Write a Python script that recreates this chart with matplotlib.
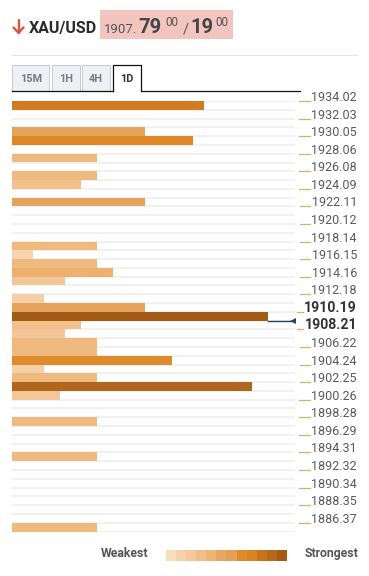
import matplotlib
matplotlib.use("Agg")
import matplotlib.pyplot as plt
import numpy as np
from matplotlib.colors import LinearSegmentedColormap, Normalize
from matplotlib.patches import Rectangle
from matplotlib.transforms import blended_transform_factory

plt.rcParams['font.family'] = ['Roboto', 'DejaVu Sans']

# ---------------- data ----------------
symbol = "XAU/USD"
bid_int = "1907."
bid_big = "79"
bid_sup = "00"
ask_big = "19"
ask_sup = "00"
timeframes = ["15M", "1H", "4H", "1D"]
active_tf = "1D"

tick_values = [1934.02, 1932.03, 1930.05, 1928.06, 1926.08, 1924.09, 1922.11,
               1920.12, 1918.14, 1916.15, 1914.16, 1912.18, 1910.19, 1908.21,
               1906.22, 1904.24, 1902.25, 1900.26, 1898.28, 1896.29, 1894.31,
               1892.32, 1890.34, 1888.35, 1886.37]
highlight_ticks = [1910.19, 1908.21]

level_prices = [1933.52, 1930.55, 1929.55, 1927.57, 1925.58, 1924.59, 1922.60,
                1917.64, 1916.65, 1915.66, 1914.66, 1913.67, 1911.68, 1910.69,
                1909.70, 1908.71, 1907.71, 1906.72, 1905.73, 1904.74, 1903.74,
                1902.75, 1901.76, 1900.76, 1897.79, 1893.82, 1885.87]
level_strength = [12.0, 8.3, 11.3, 5.3, 5.3, 4.3, 8.3,
                  5.3, 1.3, 5.3, 6.3, 3.3, 2.0, 8.3,
                  16.0, 4.3, 3.3, 5.3, 5.3, 10.0, 2.0,
                  5.3, 15.0, 3.0, 5.3, 5.3, 5.3]
max_strength = 17.7
current_price = 1909.20

legend_low = "Weakest"
legend_high = "Strongest"

# ---------------- style ----------------
W, H = 369, 576
cmap = LinearSegmentedColormap.from_list("conf", [
    (0.00, "#f9dcbc"), (0.10, "#f6d2ab"), (0.20, "#f3c698"), (0.33, "#efba7e"),
    (0.45, "#e9a862"), (0.55, "#e5a058"), (0.63, "#e08a2a"), (0.72, "#dd8626"),
    (0.76, "#d07a1e"), (0.94, "#b0661c"), (1.00, "#a35b14")])
norm = Normalize(0, 16)

fig = plt.figure(figsize=(W / 100, H / 100), dpi=100)
fig.patch.set_facecolor("white")

bg = fig.add_axes([0, 0, 1, 1])
bg.set_xlim(0, W)
bg.set_ylim(H, 0)
bg.axis("off")

# header
bg.plot([18.5, 18.5], [19.5, 32.5], color="#d4573f", lw=1.7, solid_capstyle="round")
bg.plot([13.5, 18.5, 23.5], [27.5, 32.8, 27.5], color="#d4573f", lw=1.7,
        solid_capstyle="round", solid_joinstyle="miter")
bg.text(29, 33, symbol, fontsize=11.5, fontweight="bold", color="#2b2b2b", va="baseline", ha="left")
bg.add_patch(Rectangle((100, 10), 133, 28.5, facecolor="#f2c6bf", edgecolor="none"))
bg.text(104, 33, bid_int, fontsize=9.5, color="#555555", va="baseline")
bg.text(138.5, 33, bid_big, fontsize=14.5, fontweight="bold", color="#454545", va="baseline")
bg.text(165.5, 25.5, bid_sup, fontsize=8.5, color="#555555", va="baseline")
bg.text(182.5, 33, "/", fontsize=10.5, color="#555555", va="baseline")
bg.text(190.5, 33, ask_big, fontsize=14.5, fontweight="bold", color="#454545", va="baseline")
bg.text(215.5, 25.5, ask_sup, fontsize=8.5, color="#555555", va="baseline")

bg.plot([12, 357], [55, 55], color="#e4e4e4", lw=0.8)

# tabs
tab_x = [(12, 49.3), (51.7, 80), (82, 110), (113.3, 140.7)]
for (x0, x1), name in zip(tab_x, timeframes):
    if name == active_tf:
        bg.add_patch(Rectangle((x0, 65), x1 - x0, 26, facecolor="white", edgecolor="none"))
        bg.plot([x0, x0, x1, x1], [90.5, 65, 65, 90.5], color="#111111", lw=0.9)
        bg.text((x0 + x1) / 2, 78.5, name, fontsize=7.8, fontweight="bold", color="#333333",
                ha="center", va="center")
    else:
        bg.add_patch(Rectangle((x0, 65), x1 - x0, 25.5, facecolor="#eef0f5",
                               edgecolor="#c9c9cf", lw=0.7))
        bg.text((x0 + x1) / 2, 78.5, name, fontsize=7.8, fontweight="bold", color="#7a7a7a",
                ha="center", va="center")
bg.plot([12, 113.3], [90.5, 90.5], color="#111111", lw=0.9)
bg.plot([140.7, 300], [90.5, 90.5], color="#111111", lw=0.9)

# legend
bg.text(148.5, 553.5, legend_low, fontsize=8.8, fontweight="bold", color="#555555",
        ha="right", va="center")
bg.text(304.5, 553.5, legend_high, fontsize=8.8, fontweight="bold", color="#555555",
        ha="left", va="center")
lax = fig.add_axes([166 / W, 1 - 561 / H, 121 / W, 11 / H])
lax.imshow(cmap(np.linspace(0, 1, 12))[None, :, :], aspect="auto", interpolation="nearest")
lax.axis("off")

# ---------------- chart ----------------
top = tick_values[0]
step = (tick_values[0] - tick_values[-1]) / ((len(tick_values) - 1) * 2)
n_rows = (len(tick_values) - 1) * 2 + 1
bottom = top - n_rows * step

ax = fig.add_axes([12 / W, 1 - 531.5 / H, 283 / W, 430.5 / H])
ax.set_xlim(0, max_strength)
ax.set_ylim(bottom, top)
ax.axis("off")

for k in range(n_rows + 1):
    ax.axhline(top - k * step, color="#ededed", lw=1.1, zorder=0)

ax.barh(level_prices, level_strength, height=step, left=0,
        color=cmap(norm(np.array(level_strength))), linewidth=0, zorder=2)

x_end = max_strength * 0.9925
ax.plot([max(level_strength), x_end], [current_price, current_price],
        color="#24465e", lw=1.0, zorder=3)
ax.plot([x_end], [current_price], marker="<", markersize=5, color="#24465e", zorder=4,
        markeredgewidth=0)

# price labels (right)
tr = blended_transform_factory(fig.transFigure, ax.transData)
fig.canvas.draw()
renderer = fig.canvas.get_renderer()
for v in tick_values:
    hl = v in highlight_ticks
    t = fig.text(357 / W, v, f"{v:.2f}", transform=tr, ha="right", va="baseline",
                 fontsize=10.2 if hl else 9.0, fontweight="bold" if hl else "normal",
                 color="#333333" if hl else "#5a5a5a")
    bb = t.get_window_extent(renderer)
    x_start_px = bb.x0
    x0 = max(296.5, x_start_px - 12)
    x1 = x_start_px - 1.5
    bg.plot([x0, x1], [H - (ax.transData.transform((0, v))[1]) + 0, H - ax.transData.transform((0, v))[1]],
            color="#dcae62", lw=0.9)

fig.savefig("out.png", dpi=100, facecolor="white")
